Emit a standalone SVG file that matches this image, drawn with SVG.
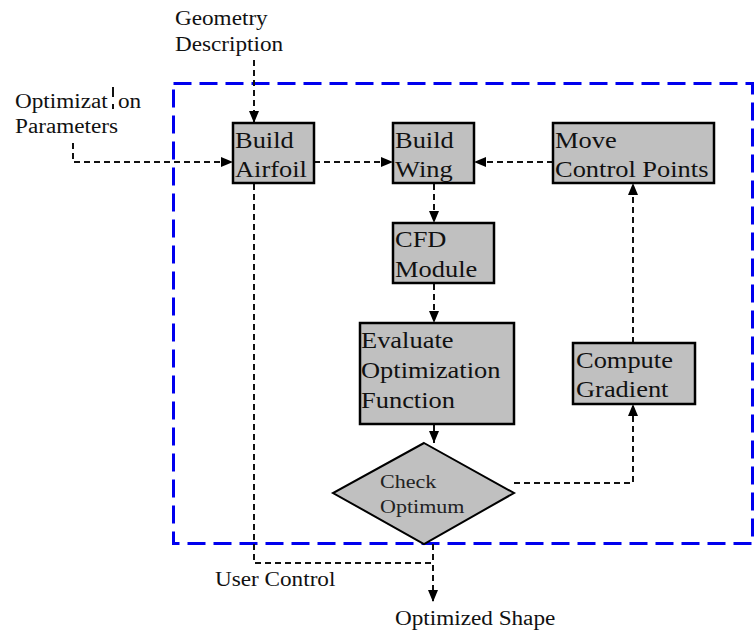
<svg xmlns="http://www.w3.org/2000/svg" width="756" height="637" viewBox="0 0 756 637">
<defs>
<marker id="ah" markerUnits="userSpaceOnUse" markerWidth="12" markerHeight="12" viewBox="0 0 12 12" refX="12" refY="6" orient="auto">
<path d="M0,1 L12,6 L0,11 Z" fill="#000"/>
</marker>
<style>
.box{fill:#c0c0c0;stroke:#000;stroke-width:2.5}
.c{fill:none;stroke:#111;stroke-width:2;stroke-dasharray:6 4}
.frame{fill:none;stroke:#0000ee;stroke-width:3;stroke-dasharray:18 8}
</style>
</defs>
<rect class="frame" x="173.5" y="83.5" width="579" height="460"/>
<g id="connectors">
<path class="c" d="M254,60 V123" marker-end="url(#ah)"/>
<path class="c" d="M73,143 V162 H233" marker-end="url(#ah)"/>
<path class="c" d="M314,162 H393" marker-end="url(#ah)"/>
<path class="c" d="M553,162 H474" marker-end="url(#ah)"/>
<path class="c" d="M434,184 V223" marker-end="url(#ah)"/>
<path class="c" d="M434,284 V323" marker-end="url(#ah)"/>
<path class="c" d="M434,425 V443" marker-end="url(#ah)" style="stroke-dasharray:none"/>
<path class="c" d="M514,483 H633 V404" marker-end="url(#ah)"/>
<path class="c" d="M633,343 V183" marker-end="url(#ah)"/>
<path class="c" d="M254,184 V563 H433 V602" marker-end="url(#ah)"/>
<path class="c" d="M433,544 V563"/>
</g>
<g id="geometry-description" font-family="Liberation Serif" font-size="20" fill="#111">
<text transform="translate(175,25) scale(1.16,1)">Geometry</text>
<text transform="translate(175,51) scale(1.16,1)">Description</text>
</g>
<g id="optimization-parameters" font-family="Liberation Serif" font-size="20" fill="#111">
<text transform="translate(15,108) scale(1.16,1)">Optimizat</text>
<text transform="translate(118,108) scale(1.16,1)">on</text>
<path d="M113,87 V97 M113,104 V109" stroke="#111" stroke-width="2"/>
<text transform="translate(15,133) scale(1.16,1)">Parameters</text>
</g>
<g id="build-airfoil" font-family="Liberation Serif" font-size="23" fill="#111">
<rect class="box" x="233" y="123" width="81" height="60"/>
<text transform="translate(235,148) scale(1.15,1)">Build</text>
<text transform="translate(235,177) scale(1.15,1)">Airfoil</text>
</g>
<g id="build-wing" font-family="Liberation Serif" font-size="23" fill="#111">
<rect class="box" x="393" y="123" width="81" height="60"/>
<text transform="translate(395,148) scale(1.15,1)">Build</text>
<text transform="translate(395,177) scale(1.15,1)">Wing</text>
</g>
<g id="move-control-points" font-family="Liberation Serif" font-size="23" fill="#111">
<rect class="box" x="553" y="123" width="161" height="60"/>
<text transform="translate(555,148) scale(1.15,1)">Move</text>
<text transform="translate(555,177) scale(1.15,1)">Control Points</text>
</g>
<g id="cfd-module" font-family="Liberation Serif" font-size="23" fill="#111">
<rect class="box" x="393" y="223" width="101" height="60"/>
<text transform="translate(395,247) scale(1.15,1)">CFD</text>
<text transform="translate(395,277) scale(1.15,1)">Module</text>
</g>
<g id="evaluate-optimization-function" font-family="Liberation Serif" font-size="23" fill="#111">
<rect class="box" x="360" y="323" width="154" height="101"/>
<text transform="translate(361,348) scale(1.15,1)">Evaluate</text>
<text transform="translate(361,378) scale(1.15,1)">Optimization</text>
<text transform="translate(361,408) scale(1.15,1)">Function</text>
</g>
<g id="compute-gradient" font-family="Liberation Serif" font-size="23" fill="#111">
<rect class="box" x="573" y="343" width="122" height="61"/>
<text transform="translate(576,368) scale(1.15,1)">Compute</text>
<text transform="translate(576,397) scale(1.15,1)">Gradient</text>
</g>
<g id="check-optimum" font-family="Liberation Serif" font-size="19" fill="#222">
<path class="box" d="M424,443 L514,493 L424,544 L333,493 Z" style="stroke-width:2"/>
<text transform="translate(380,488) scale(1.16,1)">Check</text>
<text transform="translate(380,513) scale(1.16,1)">Optimum</text>
</g>
<g id="user-control" font-family="Liberation Serif" font-size="20" fill="#111">
<text transform="translate(215,586) scale(1.16,1)">User Control</text>
</g>
<g id="optimized-shape" font-family="Liberation Serif" font-size="20" fill="#111">
<text transform="translate(395,625) scale(1.16,1)">Optimized Shape</text>
</g>
</svg>
